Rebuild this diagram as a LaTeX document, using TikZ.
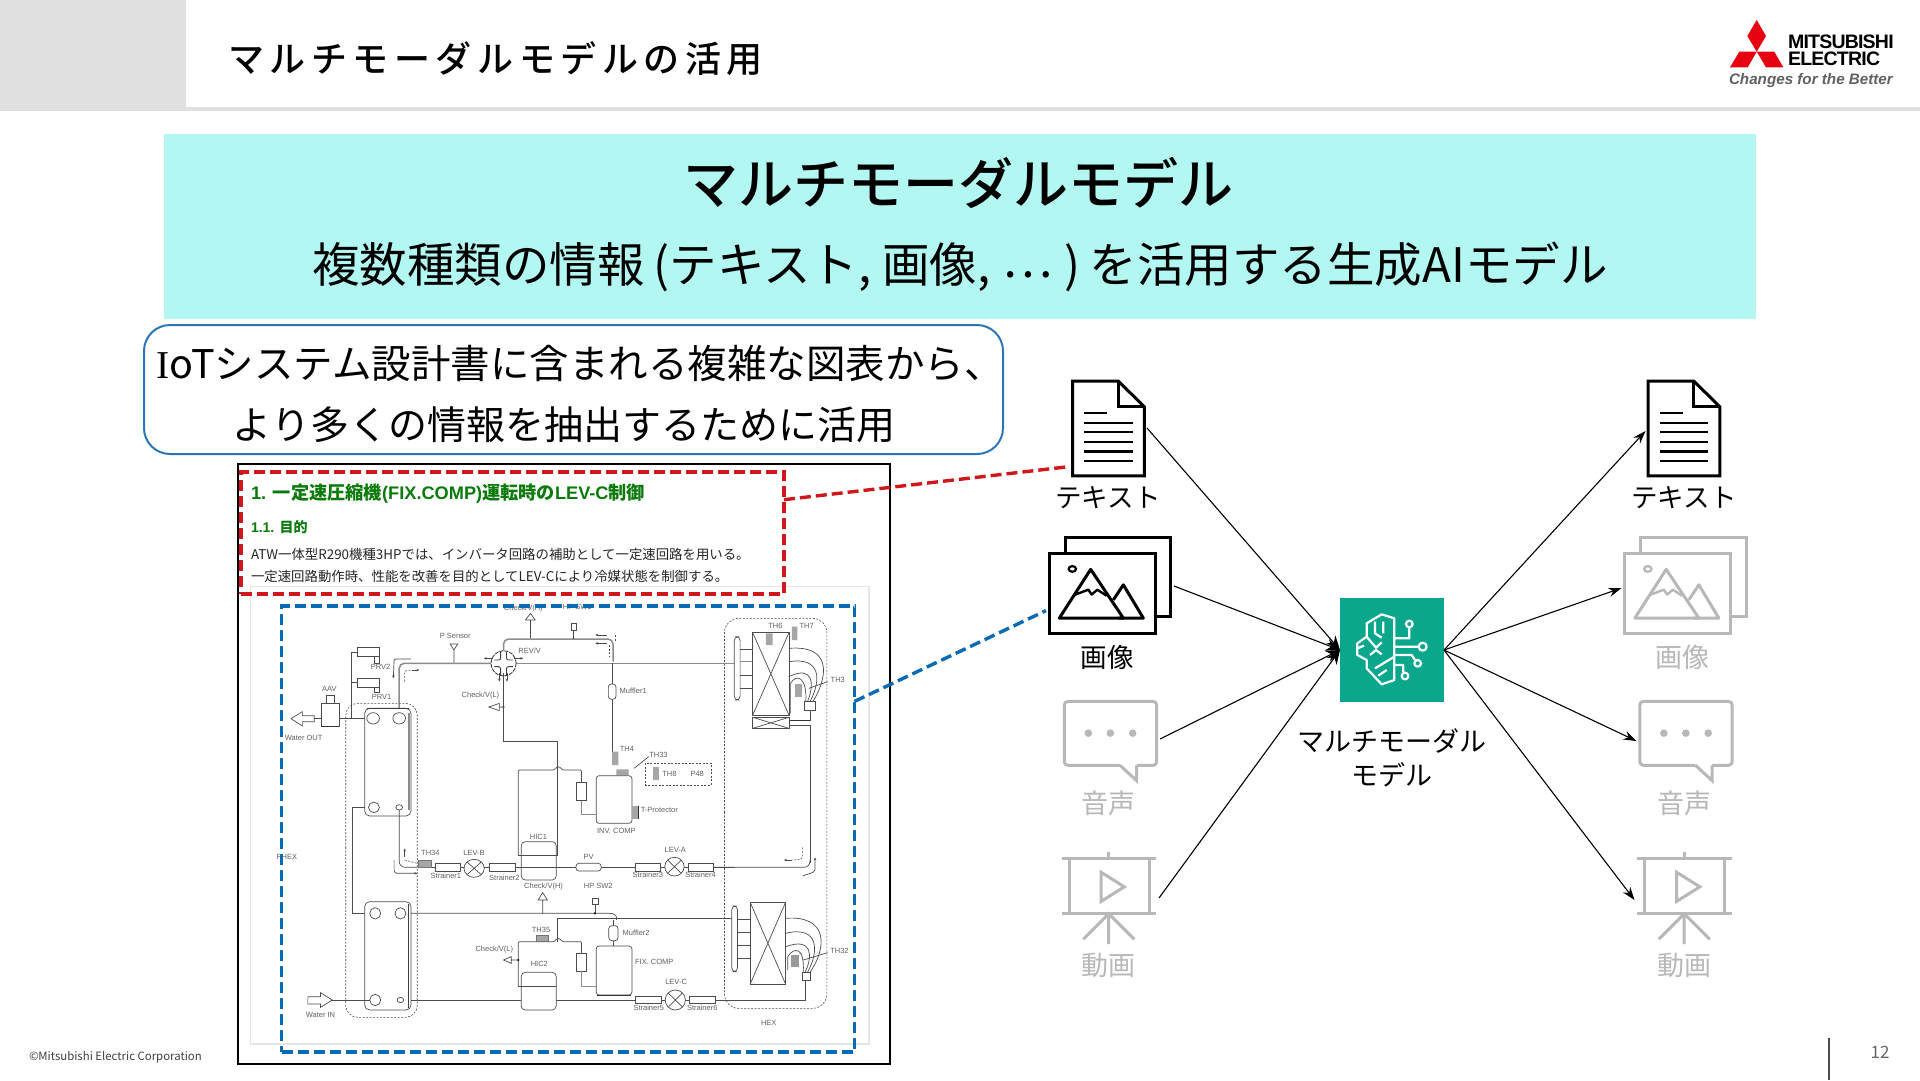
\documentclass[tikz,border=0pt]{standalone}
\usepackage{fontspec}
\setmainfont{Noto Sans CJK JP}
\newfontfamily\jptitle[LetterSpace=15.5]{Noto Sans CJK JP Medium}
\newfontfamily\jpsemi{Noto Sans CJK JP Medium}
\newfontfamily\jpplain{Noto Sans CJK JP}
\newfontfamily\lib{Liberation Sans}
\newfontfamily\libc[LetterSpace=-4]{Liberation Sans}
\newfontfamily\libserif{Liberation Serif}
\usetikzlibrary{arrows.meta}
\definecolor{banner}{HTML}{B2F7F2}
\definecolor{hdrgray}{HTML}{E0E0E0}
\definecolor{boxblue}{HTML}{2E75B6}
\definecolor{dashred}{HTML}{D0181C}
\definecolor{dashblue}{HTML}{0A6AB4}
\definecolor{iconoff}{HTML}{B8B8B8}
\definecolor{tealbox}{HTML}{0AA78C}
\definecolor{docgreen}{HTML}{0A7A0A}
\definecolor{mered}{HTML}{E60012}
\newcommand{\fs}[1]{\fontsize{#1pt}{#1pt}\selectfont}
\newcounter{lb}
\tikzset{
  txt/.style={inner sep=0pt,outer sep=0pt,align=center},
  stxt/.style={txt,text=black!62,font=\lib\fs{7.5}},
  conn/.style={draw=black,line width=1.1pt,-{Stealth[length=13pt,width=9pt]}},
  connin/.style={draw=black,line width=1.1pt,-{Stealth[length=14pt,width=12pt]}},
  iconbox/.style={draw=none,fill=none,outer sep=3pt,inner sep=0pt},
  icl/.style={line width=3pt,line join=miter},
  reddash/.style={draw=dashred,line width=3.4pt,dash pattern=on 11pt off 5pt},
  bluedash/.style={draw=dashblue,line width=3.4pt,dash pattern=on 11pt off 5pt},
  thin/.style={draw=black!70,line width=.7pt},
  pipe/.style={draw=black!45,line width=1.5pt},
  dsh/.style={draw=black!70,line width=.6pt,dash pattern=on 2pt off 1.5pt},
  gsq/.style={fill=black!35,draw=black!55,line width=.4pt},
  tinyarr/.style={thin,-{Stealth[length=3pt,width=2.5pt]}},
}
\newcommand{\slab}[2]{\stepcounter{lb}\node[stxt] (lb\arabic{lb}) at (#1) {#2};}
\newcommand{\vlv}[4]{\draw[thin,fill=white] (#1,#2) ellipse (#3 and #4);
  \draw[thin] (#1-#3*.7,#2-#4*.7) -- (#1+#3*.7,#2+#4*.7) (#1-#3*.7,#2+#4*.7) -- (#1+#3*.7,#2-#4*.7);}
% icons in zoom coordinates
\newcommand{\docicon}[2]{\begin{scope}[shift={(1020+#1,360)},x=.33333pt,y=-.4065pt,draw=#2]
  \draw[icl,fill=white] (158,52) -- (295,52) -- (373,115) -- (373,285) -- (158,285) -- cycle;
  \draw[icl] (295,52) -- (295,115) -- (373,115);
  \draw[line width=2.2pt] (193,130) -- (262,130) (193,155) -- (338,155) (193,178) -- (338,178) (193,201) -- (338,201) (193,225) -- (338,225) (193,248) -- (338,248);
\end{scope}}
\newcommand{\imgicon}[2]{\begin{scope}[shift={(1020+#1,360)},x=.33333pt,y=-.4065pt,draw=#2]
  \draw[icl,fill=white] (135,437) rectangle (452,632);
  \draw[icl,fill=white] (88,476) rectangle (405,672);
  \draw[line width=2.2pt] (157,514) ellipse (11 and 7);
  \draw[line width=3pt,line join=round] (118,635) -- (212,515) -- (310,635) -- cycle;
  \draw[line width=3pt,line join=round] (280,590) -- (310,553) -- (370,635) -- (295,635);
  \draw[line width=2.4pt,line join=round] (163,578) -- (205,565) -- (215,577) -- (232,565) -- (260,580);
\end{scope}}
\newcommand{\voiceicon}[2]{\begin{scope}[shift={(1020+#1,360)},x=.33333pt,y=-.4065pt,draw=#2]
  \draw[icl,rounded corners=3.5pt] (300,997) -- (133,997) -- (133,840) -- (410,840) -- (410,997) -- (350,997);
  \draw[icl] (300,997) -- (350,1035) -- (350,997);
  \fill[#2] (205,918) circle (3.8pt) (271,918) circle (3.8pt) (338,918) circle (3.8pt);
\end{scope}}
\newcommand{\videoicon}[2]{\begin{scope}[shift={(1020+#1,360)},x=.33333pt,y=-.4065pt,draw=#2]
  \draw[icl] (125,1226) -- (408,1226) (266,1210) -- (266,1226) (147,1226) -- (147,1362) (388,1226) -- (388,1362) (125,1362) -- (408,1362);
  \draw[icl] (266,1362) -- (266,1437) (190,1425) -- (266,1362) -- (343,1425);
  \draw[icl] (243,1260) -- (243,1332) -- (313,1296) -- cycle;
\end{scope}}
\begin{document}
\begin{tikzpicture}[x=1pt,y=-1pt]
\useasboundingbox (0,0) rectangle (1920,1080);
\fill[white] (0,0) rectangle (1920,1080);
% header
\fill[hdrgray] (0,0) rectangle (186,108);
\fill[hdrgray] (0,107) rectangle (1920,111);
\node[txt,anchor=west,font=\jptitle\fs{36}] (title) at (228,59) {マルチモーダルモデルの活用};
% logo
\fill[mered] (1756.7,20) -- (1766,36) -- (1756.7,51.7) -- (1747.3,36) -- cycle;
\fill[mered] (1739.3,51.7) -- (1756.7,51.7) -- (1747.7,67.3) -- (1730,67.3) -- cycle;
\fill[mered] (1756.7,51.7) -- (1774.3,51.7) -- (1783.3,67.3) -- (1766,67.3) -- cycle;
\node[txt,anchor=west,font=\libc\bfseries\fs{19.5}] (me1) at (1788,42) {MITSUBISHI};
\node[txt,anchor=west,font=\libc\bfseries\fs{19.5}] (me2) at (1788,58.5) {ELECTRIC};
\node[txt,anchor=west,text=black!62,font=\lib\bfseries\itshape\fs{15.2}] (me3) at (1729,81) {Changes for the Better};
% banner
\fill[banner] (164,134) rectangle (1756,319);
\node[txt,font=\jpsemi\fs{55}] (bt) at (958,183) {マルチモーダルモデル};
\node[txt,font=\fs{47.5}] (bs) at (960,267) {複数種類の情報\kern9pt(テキスト, 画像,\kern12pt\raisebox{.1em}{⋯}\kern12pt)\kern9ptを活用する生成AIモデル};
% callout
\node[draw=boxblue,line width=2pt,fill=white,rounded corners=26pt,minimum width=859pt,minimum height=129pt,inner sep=0pt,anchor=north west] (callout) at (143,324) {};
\node[txt,font=\fs{39.5}] (c1) at (580,363) {{\libserif I}oTシステム設計書に含まれる複雑な図表から、};
\node[txt,font=\fs{39}] (c2) at (564,425) {より多くの情報を抽出するために活用};
% document
\node[draw=black,line width=2pt,fill=white,anchor=north west,minimum width=652pt,minimum height=600pt,inner sep=0pt] (docframe) at (237,463) {};
\node[txt,anchor=west,text=docgreen,font=\lib\bfseries\fs{18.2}] (d1) at (251,494) {1. \mbox{\jpplain\bfseries 一定速圧縮機}(FIX.COMP)\mbox{\jpplain\bfseries 運転時の}LEV-C\mbox{\jpplain\bfseries 制御}};
\node[txt,anchor=west,text=docgreen,font=\lib\bfseries\fs{14}] (d2) at (251,527) {1.1. \mbox{\jpplain\bfseries 目的}};
\node[txt,anchor=west,text=black!85,font=\fs{13.4}] (d3) at (251,554) {ATW一体型R290機種3HPでは、インバータ回路の補助として一定速回路を用いる。};
\node[txt,anchor=west,text=black!85,font=\fs{13.4}] (d4) at (251,576) {一定速回路動作時、性能を改善を目的としてLEV-Cにより冷媒状態を制御する。};
% schematic, upper part
\begin{scope}[shift={(230,460)},x=.42088pt,y=-.33333pt]
  \draw[black!10,line width=1.2pt] (48,380) rectangle (1518,1752);
  % top valves
  \draw[thin] (714,480) -- (714,535) (702,480) -- (725,480) -- (714,460) -- cycle;
  \draw[thin] (810,490) rectangle (822,510) (816,510) -- (816,537);
  \fill[black] (816,535) circle (1pt);
  \slab{697,447}{Check/V(H)}
  \slab{825,440}{HP SW1}
  \slab{535,528}{P Sensor}
  \draw[thin] (523,552) -- (541,552) -- (532,570) -- cycle (532,570) -- (532,610);
  \slab{712,572}{REV/V}
  % main pipes
  \draw[pipe,rounded corners=5pt] (650,580) -- (650,537) -- (910,537) -- (910,605);
  \draw[pipe,rounded corners=5pt] (402,765) -- (402,610) -- (620,610);
  \draw[pipe] (680,610) -- (1200,610);
  \draw[draw=black!75,line width=.9pt,fill=white,dash pattern=on 4pt off 1pt] (650,610) ellipse (30 and 38);
  \draw[black!75,line width=.9pt,rounded corners=2pt] (628,600) -- (643,600) -- (643,575) (657,575) -- (657,600) -- (672,600) (628,620) -- (643,620) -- (643,645) (657,645) -- (657,620) -- (672,620);
  \draw[tinyarr] (625,595) -- (603,595);
  \draw[tinyarr] (675,595) -- (697,595);
  \draw[tinyarr] (640,640) -- (640,665);
  \draw[tinyarr] (658,640) -- (658,665);
  \draw[tinyarr] (895,525) -- (868,525);
  \draw[tinyarr] (895,550) -- (868,550);
  \draw[dsh] (915,525) -- (915,545) (900,555) -- (900,590);
  \draw[tinyarr,rounded corners=2pt] (430,597) -- (390,597) -- (388,655);
  \draw[dsh,rounded corners=2pt] (415,665) -- (415,632) -- (430,632);
  \draw[tinyarr] (432,630) -- (450,630);
  % valves PRV
  \draw[thin] (302,562) rectangle (355,590) (302,655) rectangle (355,683);
  \draw[thin] (342,590) rectangle (354,610) (342,683) rectangle (354,697);
  \draw[thin] (302,578) -- (288,578) -- (288,775) (302,668) -- (288,668);
  \slab{358,622}{PRV2}
  \slab{360,710}{PRV1}
  \slab{236,686}{AAV}
  \draw[thin] (228,705) rectangle (247,730);
  \draw[thin] (217,730) rectangle (259,800);
  \draw[black!80,line width=1.2pt] (217,800) -- (259,800);
  \draw[thin] (145,776) -- (172,755) -- (172,767) -- (200,767) -- (200,785) -- (172,785) -- (172,798) -- cycle;
  \draw[thin] (200,776) -- (217,776) (259,775) -- (340,775);
  \slab{175,834}{Water OUT}
  % PHEX enclosure and plate 1
  \draw[dsh,rounded corners=12pt] (275,1200) -- (275,730) -- (445,730) -- (445,1672) -- (275,1672) -- cycle;
  \draw[thin,rounded corners=5pt,fill=white] (320,745) rectangle (430,1068);
  \draw[pipe] (425,760) -- (425,1050);
  \draw[black!75,line width=1.4pt] (325,745) -- (425,745);
  \draw[thin] (340,775) ellipse (15 and 17) (402,775) ellipse (15 and 17);
  \draw[thin] (342,1042) ellipse (13 and 16) (402,1042) ellipse (8 and 8);
  % check L
  \slab{595,708}{Check/V(L)}
  \draw[thin] (615,741) -- (640,730) -- (640,752) -- cycle (640,741) -- (650,741);
  \fill[black] (650,741) circle (1.1pt);
  \draw[thin] (650,640) -- (650,845) -- (778,845) -- (778,1185);
  % muffler 1
  \draw[thin] (908,610) -- (908,672) (908,718) -- (908,875);
  \draw[thin,rounded corners=3pt,fill=white] (899,672) rectangle (917,718);
  \slab{958,692}{Muffler1}
  \fill[black!35] (908,875) rectangle (923,900);
  \slab{943,868}{TH4}
  \slab{1018,886}{TH33}
  \draw[thin] (995,890) -- (960,925);
  % HEX enclosure and HEX 1
  \draw[dsh,rounded corners=14pt] (1175,1100) -- (1175,475) -- (1418,475) -- (1418,1645) -- (1175,1645) -- cycle;
  \draw[thin,rounded corners=4pt,fill=white] (1198,530) rectangle (1212,720);
  \draw[thin] (1212,567) -- (1242,567) (1212,645) -- (1242,645) (1212,685) -- (1242,685);
  \draw[pipe] (1212,605) -- (1242,605);
  \draw[thin,fill=white] (1242,518) rectangle (1328,765);
  \draw[thin] (1242,518) -- (1328,765) (1328,518) -- (1242,765);
  \draw[thin,fill=white] (1242,772) rectangle (1328,805);
  \draw[thin] (1242,772) -- (1328,805) (1328,772) -- (1242,805);
  \fill[black!35] (1273,520) rectangle (1289,555) (1335,500) rectangle (1348,540);
  \slab{1296,498}{TH6}
  \slab{1370,498}{TH7}
  \draw[thin] (1328,565) .. controls (1425,555) and (1425,640) .. (1385,725);
  \draw[thin] (1328,605) .. controls (1405,590) and (1405,660) .. (1378,725);
  \draw[thin] (1328,650) .. controls (1385,615) and (1390,670) .. (1372,725);
  \draw[thin] (1332,760) -- (1332,670) .. controls (1345,640) and (1372,650) .. (1368,725);
  \fill[black!35] (1342,672) rectangle (1358,710);
  \draw[thin,fill=white] (1365,725) rectangle (1390,750);
  \draw[thin] (1420,665) -- (1375,685);
  \slab{1444,660}{TH3}
  \draw[black!80,line width=1pt] (1330,782) -- (1378,782);
  \draw[thin] (1378,750) -- (1378,782) (1330,795) -- (1378,795) -- (1378,1210);
\end{scope}
% schematic, lower part
\begin{scope}[shift={(230,760)},x=.42088pt,y=-.33333pt]
  \slab{135,291}{PHEX}
  \draw[thin] (290,142) -- (320,142) (290,142) -- (290,460) -- (330,460);
  % INV compressor
  \fill[black!35] (908,-25) rectangle (923,15) (918,28) rectangle (947,46);
  \draw[thin,rounded corners=3pt,fill=white] (870,47) rectangle (955,190);
  \fill[black!35] (955,137) rectangle (970,178);
  \draw[black!80,line width=.9pt] (970,137) -- (970,178);
  \slab{1020,150}{T-Protector}
  \slab{918,212}{INV. COMP}
  \draw[dsh] (987,10) rectangle (1143,75);
  \fill[black!35] (1006,20) rectangle (1020,60);
  \slab{1044,42}{TH8}
  \slab{1110,42}{P48}
  % HIC1
  \draw[thin,rounded corners=1pt] (685,285) -- (685,30) -- (770,30) .. controls (778,18) and (782,18) .. (790,30) -- (835,30) -- (835,67);
  \draw[thin,fill=white] (823,67) rectangle (847,122);
  \draw[pipe] (835,122) -- (835,163) -- (870,163);
  \draw[thin,rounded corners=4pt,fill=white] (692,245) rectangle (775,360);
  \draw[thin] (685,285) -- (778,285) -- (778,0);
  \slab{733,231}{HIC1}
  % liquid line
  \draw[thin,rounded corners=6pt] (402,150) -- (402,322) -- (445,322);
  \draw[thin] (478,322) -- (1200,322);
  \draw[thin,rounded corners=6pt] (1149,322) -- (1378,322) -- (1378,300);
  \draw[gsq] (448,302) rectangle (478,322);
  \slab{476,278}{TH34}
  \draw[thin,fill=white] (488,310) rectangle (548,333);
  \slab{513,348}{Strainer1}
  \vlv{580}{325}{24}{27}
  \slab{580,278}{LEV-B}
  \draw[thin,fill=white] (617,310) rectangle (677,333);
  \slab{652,352}{Strainer2}
  \draw[thin,rounded corners=3pt,fill=white] (822,310) rectangle (882,333);
  \slab{852,292}{PV}
  \draw[thin,fill=white] (962,310) rectangle (1023,333);
  \slab{993,345}{Strainer3}
  \vlv{1056}{320}{23}{28}
  \slab{1058,270}{LEV-A}
  \draw[thin,fill=white] (1088,310) rectangle (1149,333);
  \slab{1118,344}{Strainer4}
  \draw[dsh,rounded corners=2pt] (1360,262) -- (1360,298) -- (1335,300);
  \draw[tinyarr] (1335,300) -- (1316,300);
  \draw[tinyarr,rounded corners=2pt] (1360,348) -- (1390,335) -- (1390,292);
  \draw[tinyarr] (415,290) -- (415,265);
  \draw[dsh] (415,300) -- (445,310);
  \draw[tinyarr,rounded corners=3pt] (390,300) -- (390,340) -- (445,340);
  % PHEX 2
  \draw[thin,rounded corners=5pt,fill=white] (320,425) rectangle (430,750);
  \draw[black!75,line width=1pt] (425,432) -- (425,745);
  \draw[thin] (345,460) ellipse (13 and 17) (405,460) ellipse (13 and 17);
  \draw[thin] (345,720) ellipse (13 and 17) (405,720) ellipse (8 and 8);
  % gas lines
  \draw[thin,rounded corners=2pt] (430,460) -- (905,460) .. controls (915,462) and (920,468) .. (918,480);
  \draw[thin] (778,545) -- (778,475) -- (1192,475);
  \slab{745,380}{Check/V(H)}
  \draw[thin] (732,420) -- (754,420) -- (743,398) -- cycle (743,420) -- (743,460);
  \slab{875,378}{HP SW2}
  \draw[thin] (861,415) rectangle (874,433) (867,433) -- (867,460);
  \fill[black] (867,460) circle (1.1pt);
  \draw[thin] (910,480) -- (910,497) (910,542) -- (910,558);
  \draw[thin,rounded corners=3pt,fill=white] (900,497) rectangle (922,542);
  \slab{965,517}{Muffler2}
  % FIX compressor
  \draw[thin,rounded corners=3pt,fill=white] (870,558) rectangle (955,705);
  \draw[black!80,line width=1pt] (872,705) -- (953,705);
  \slab{1008,606}{FIX. COMP}
  % HIC2
  \draw[thin,rounded corners=1pt] (685,680) -- (685,545) -- (770,545) .. controls (778,533) and (782,533) .. (790,545) -- (835,545) -- (835,580);
  \draw[gsq] (727,527) rectangle (757,545);
  \slab{739,510}{TH35}
  \slab{628,570}{Check/V(L)}
  \draw[thin] (650,600) -- (668,590) -- (668,610) -- cycle (668,600) -- (685,600);
  \fill[black] (685,600) circle (1.1pt);
  \draw[thin,fill=white] (823,580) rectangle (847,633);
  \draw[pipe] (835,633) -- (835,680) -- (870,680);
  \draw[thin,rounded corners=4pt,fill=white] (692,637) rectangle (775,750);
  \draw[thin] (685,680) -- (775,680);
  \slab{735,613}{HIC2}
  % bottom line
  \draw[thin] (185,710) -- (215,710) -- (215,698) -- (243,720) -- (215,742) -- (215,732) -- (185,732) -- cycle;
  \slab{215,765}{Water IN}
  \draw[thin] (243,720) -- (332,720) (430,720) -- (692,720) (775,720) -- (1368,720) -- (1368,662);
  \draw[thin,fill=white] (964,710) rectangle (1025,730);
  \slab{995,744}{Strainer5}
  \vlv{1058}{720}{24}{30}
  \slab{1060,666}{LEV-C}
  \draw[thin,fill=white] (1092,710) rectangle (1153,730);
  \slab{1122,743}{Strainer6}
  % HEX 2
  \draw[thin,rounded corners=4pt,fill=white] (1192,438) rectangle (1206,635);
  \draw[thin] (1206,478) -- (1236,478) (1206,517) -- (1236,517) (1206,557) -- (1236,557) (1206,595) -- (1236,595);
  \draw[thin,fill=white] (1236,427) rectangle (1320,672);
  \draw[thin] (1236,427) -- (1320,672) (1320,427) -- (1236,672);
  \draw[thin] (1320,475) .. controls (1420,465) and (1420,560) .. (1378,637);
  \draw[thin] (1320,520) .. controls (1400,495) and (1400,575) .. (1372,637);
  \draw[thin] (1320,560) .. controls (1385,530) and (1385,590) .. (1366,637);
  \draw[thin] (1325,630) -- (1325,590) .. controls (1340,560) and (1366,560) .. (1362,637);
  \fill[black!40] (1332,585) rectangle (1352,622);
  \draw[thin,fill=white] (1360,637) rectangle (1380,662);
  \draw[thin] (1420,578) -- (1362,600);
  \slab{1448,573}{TH32}
  \slab{1280,790}{HEX}
\end{scope}
% dashed highlight boxes
\node[reddash,anchor=north west,minimum width=543pt,minimum height=122pt,inner sep=0pt,outer sep=0pt] (redbox) at (241,472) {};
\node[bluedash,anchor=north west,minimum width=573pt,minimum height=446pt,inner sep=0pt,outer sep=0pt] (bluebox) at (281.5,606) {};
% icons
\node[iconbox,minimum width=71pt,minimum height=96pt] (tdoc) at (1108.5,428) {};
\node[iconbox,minimum width=122pt,minimum height=96pt] (timg) at (1110,586) {};
\node[iconbox,minimum width=93pt,minimum height=76pt] (tvoi) at (1110.5,739) {};
\node[iconbox,minimum width=94pt,minimum height=90pt] (tvid) at (1109,898) {};
\node[iconbox,minimum width=71pt,minimum height=96pt] (odoc) at (1684,431) {};
\node[iconbox,minimum width=122pt,minimum height=96pt] (oimg) at (1685.5,588) {};
\node[iconbox,minimum width=93pt,minimum height=76pt] (ovoi) at (1686,741) {};
\node[iconbox,minimum width=94pt,minimum height=90pt] (ovid) at (1684.5,900) {};
\docicon{0}{black}
\imgicon{0}{black}
\voiceicon{0}{iconoff}
\videoicon{0}{iconoff}
\docicon{575.5}{black}
\imgicon{575.5}{iconoff}
\voiceicon{575.5}{iconoff}
\videoicon{575.5}{iconoff}
% labels
\tikzset{lbk/.style={txt,font=\fs{26.5}},lgy/.style={txt,font=\fs{27},text=iconoff}}
\node[lbk] (l1) at (1108,498) {テキスト};
\node[lbk] (l2) at (1107,657) {画像};
\node[lgy] (l3) at (1108,803) {音声};
\node[lgy] (l4) at (1108,965) {動画};
\node[lbk] (r1) at (1684,498) {テキスト};
\node[lgy] (r2) at (1682,657) {画像};
\node[lgy] (r3) at (1684,803) {音声};
\node[lgy] (r4) at (1684,965) {動画};
\node[txt,font=\fs{27}] (ml1) at (1392,741) {マルチモーダル};
\node[txt,font=\fs{27}] (ml2) at (1392,775) {モデル};
% model
\node[fill=tealbox,minimum size=104pt,inner sep=0pt,outer sep=0pt] (model) at (1392,650) {};
\begin{scope}[shift={(1350,605)},x=.33333pt,y=-.33333pt,draw=white,line width=2.2pt,line join=round]
  \draw (133,40) -- (95,28) -- (50,55) -- (50,95) -- (22,115) -- (22,150) -- (50,165) -- (50,190) -- (95,238) -- (133,225) -- cycle;
  \draw (75,50) -- (75,85) -- (95,98) (100,50) -- (100,85) (50,95) -- (78,128) -- (95,112) (22,130) -- (42,122) (60,150) -- (78,135) -- (95,148) (75,190) -- (133,155) (85,212) -- (110,195);
  \draw (133,100) -- (178,100) -- (178,68) (133,125) -- (206,125) (133,150) -- (185,150) -- (195,165) (133,180) -- (160,180) -- (160,202);
  \draw (178,57) circle (10) (218,125) circle (12) (203,175) circle (10) (165,213) circle (10);
\end{scope}
% connectors
\draw[connin] (tdoc.east) -- (model.west);
\draw[connin] (timg.east) -- (model.west);
\draw[connin] (tvoi.east) -- (model.west);
\draw[connin] (tvid.east) -- (model.west);
\draw[conn] (model.east) -- (odoc.west);
\draw[conn] (model.east) -- (oimg.west);
\draw[conn] (model.east) -- (ovoi.west);
\draw[conn] (model.east) -- (ovid.west);
\draw[reddash] (redbox.7.5) -- (tdoc.225);
\draw[bluedash] (bluebox.24.5) -- (timg.201.8);
% footer
\node[txt,anchor=west,font=\fs{11.4},text=black!75] (foot) at (29,1057) {©Mitsubishi Electric Corporation};
\draw[black!70,line width=1.5pt] (1829,1038) -- (1829,1080);
\node[txt,font=\fs{17},text=black!60] (pg) at (1880,1052) {12};
\end{tikzpicture}
\end{document}
